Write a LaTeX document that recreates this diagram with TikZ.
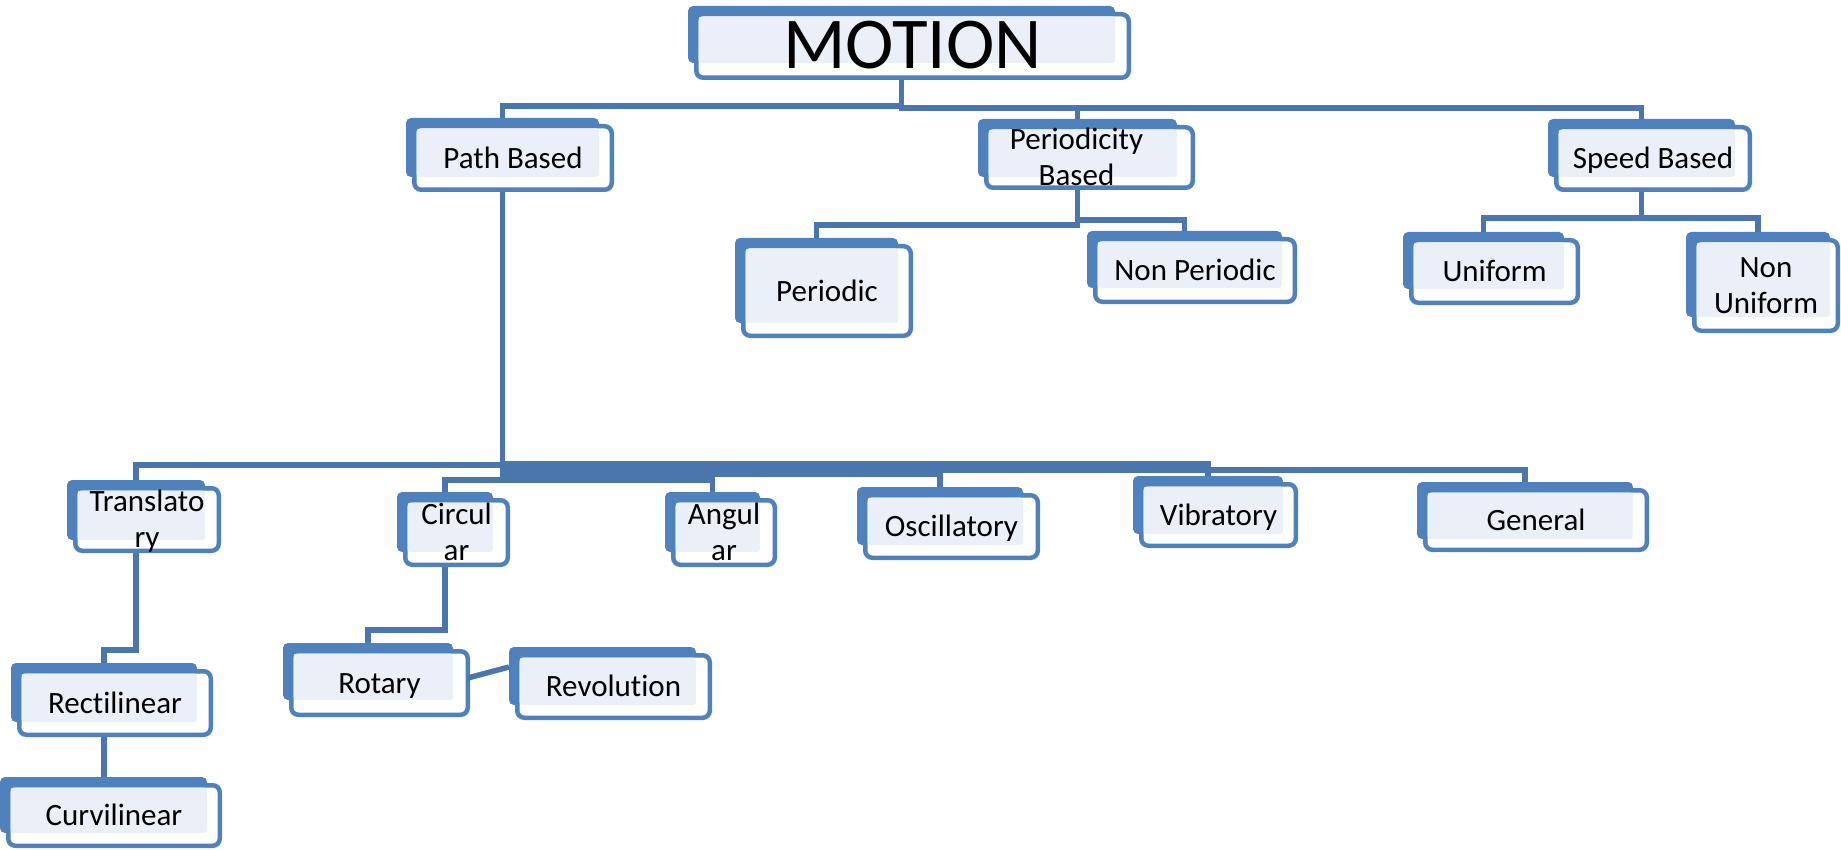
\documentclass[tikz,border=0pt]{standalone}
\usepackage{fontspec}
\setmainfont{Carlito}[Ligatures=NoCommon]
\usetikzlibrary{backgrounds}
\definecolor{boxblue}{HTML}{4F81BD}
\definecolor{linkblue}{HTML}{4A76AD}
\definecolor{paleblue}{HTML}{EBF0F8}
\tikzset{
  backbox/.style={rectangle, fill=boxblue, draw=none, rounded corners=5pt, inner sep=0pt, outer sep=0pt},
  frontbox/.style={rectangle, draw=boxblue, fill=white, line width=4.5pt, rounded corners=7pt, inner sep=0pt, outer sep=0pt},
  lightfill/.style={fill=paleblue, rounded corners=3pt},
  boxtext/.style={font=\fontsize{31}{36}\selectfont, align=center, inner sep=0pt, text=black, yshift=-3pt},
  bigtext/.style={font=\fontsize{73}{80}\selectfont, yshift=-4pt},
  conn/.style={draw=linkblue, line width=5.5pt}
}
% #1 opts, #2 name, #3 bx1, #4 by1, #5 bx2, #6 by2, #7 fx2, #8 fy2, #9 text
\newcommand\cbox[9][]{%
  \node[backbox, minimum width={#5-#3}, minimum height={#6-#4}] (#2b) at ({(#3+#5)/2},{(#4+#6)/2}) {};
  \node[frontbox, minimum width={#7-#3-6-4.5}, minimum height={#8-#4-6-4.5}] (#2f) at ({(#3+6+#7)/2},{(#4+6+#8)/2}) {};
  \fill[lightfill] ({#3+6+4.5},{#4+6+4.5}) rectangle (#2b.south east);
  \node[boxtext,#1] (#2) at (#2f.center) {\strut #9\strut};
}
\begin{document}
\begin{tikzpicture}[x=1pt,y=-1pt]
\useasboundingbox (0,0) rectangle (1841,850);
% boxes
\cbox[bigtext]{motion}{688}{6}{1115}{63}{1131}{80}{MOTION}
\cbox{pathbased}{406}{118}{599}{177}{614}{192}{Path Based}
\cbox[xshift=-13pt]{periodicity}{978}{119}{1177}{177}{1195}{190}{Periodicity\\Based}
\cbox{speed}{1548}{119}{1735}{177}{1752}{192}{Speed Based}
\cbox{periodic}{735}{238}{898}{323}{913}{338}{Periodic}
\cbox{nonper}{1087}{231}{1282}{288}{1297}{304}{Non Periodic}
\cbox{uniform}{1403}{232}{1564}{289}{1580}{305}{Uniform}
\cbox{nonuni}{1686}{232}{1830}{317}{1840}{333}{Non\\Uniform}
\cbox{transl}{67}{480}{205}{540}{221}{553}{Translato\\ry}
\cbox{circ}{397}{492}{493}{552}{510}{567}{Circul\\ar}
\cbox{ang}{665}{492}{760}{552}{777}{567}{Angul\\ar}
\cbox{osc}{857}{487}{1023}{545}{1040}{560}{Oscillatory}
\cbox{vib}{1133}{476}{1283}{534}{1298}{548}{Vibratory}
\cbox{gen}{1417}{482}{1633}{539}{1649}{552}{General}
\cbox{rotary}{283}{643}{453}{700}{470}{717}{Rotary}
\cbox{revol}{509}{647}{696}{705}{712}{720}{Revolution}
\cbox{recti}{11}{663}{197}{722}{213}{737}{Rectilinear}
\cbox{curvi}{0}{777}{207}{833}{222}{848}{Curvilinear}
% level coordinates
\coordinate (L1a) at (0,106);
\coordinate (L1b) at (0,108);
\coordinate (L2a) at (0,225);
\coordinate (L2b) at (0,220);
\coordinate (L2c) at (0,218);
\coordinate (L3t) at (0,465);
\coordinate (L3v) at (0,464);
\coordinate (L3g) at (0,470);
\coordinate (L3o) at (0,474);
\coordinate (L3c) at (0,480);
\coordinate (L4r) at (0,630);
\coordinate (L4t) at (0,650);
\coordinate (rr1) at ([yshift=5pt]rotaryf.east);
\coordinate (rr2) at ([yshift=9pt]revolb.west);
\begin{pgfonlayer}{background}
  \draw[conn] (motionb.center) -- (motionb.center |- L1a) -| (pathbasedb.center);
  \draw[conn] (motionb.center) -- (motionb.center |- L1b) -| (speedb.center);
  \draw[conn] (motionb.center |- L1b) -| (periodicityb.center);
  \draw[conn] (periodicityb.center) -- (periodicityb.center |- L2a) -| (periodicb.center);
  \draw[conn] (periodicityb.center |- L2b) -| (nonperb.center);
  \draw[conn] (speedb.center) -- (speedb.center |- L2c) -| (uniformb.center);
  \draw[conn] (speedb.center |- L2c) -| (nonunib.center);
  \draw[conn] (pathbasedb.center) -- (pathbasedb.center |- L3c);
  \draw[conn] (pathbasedb.center |- L3t) -| (translb.center);
  \draw[conn] (pathbasedb.center |- L3v) -| (vibb.center);
  \draw[conn] (pathbasedb.center |- L3g) -| (genb.center);
  \draw[conn] (pathbasedb.center |- L3o) -| (oscb.center);
  \draw[conn] (pathbasedb.center |- L3c) -| (circb.center);
  \draw[conn] (pathbasedb.center |- L3c) -| (angb.center);
  \draw[conn] (circb.center) -- (circb.center |- L4r) -| (rotaryb.center);
  \draw[conn] (translb.center) -- (translb.center |- L4t) -| (rectib.center);
  \draw[conn] (rectib.center) -- (rectib.center |- curvib.center);
\end{pgfonlayer}
\draw[conn] (rr1) -- (rr2);
\end{tikzpicture}
\end{document}
